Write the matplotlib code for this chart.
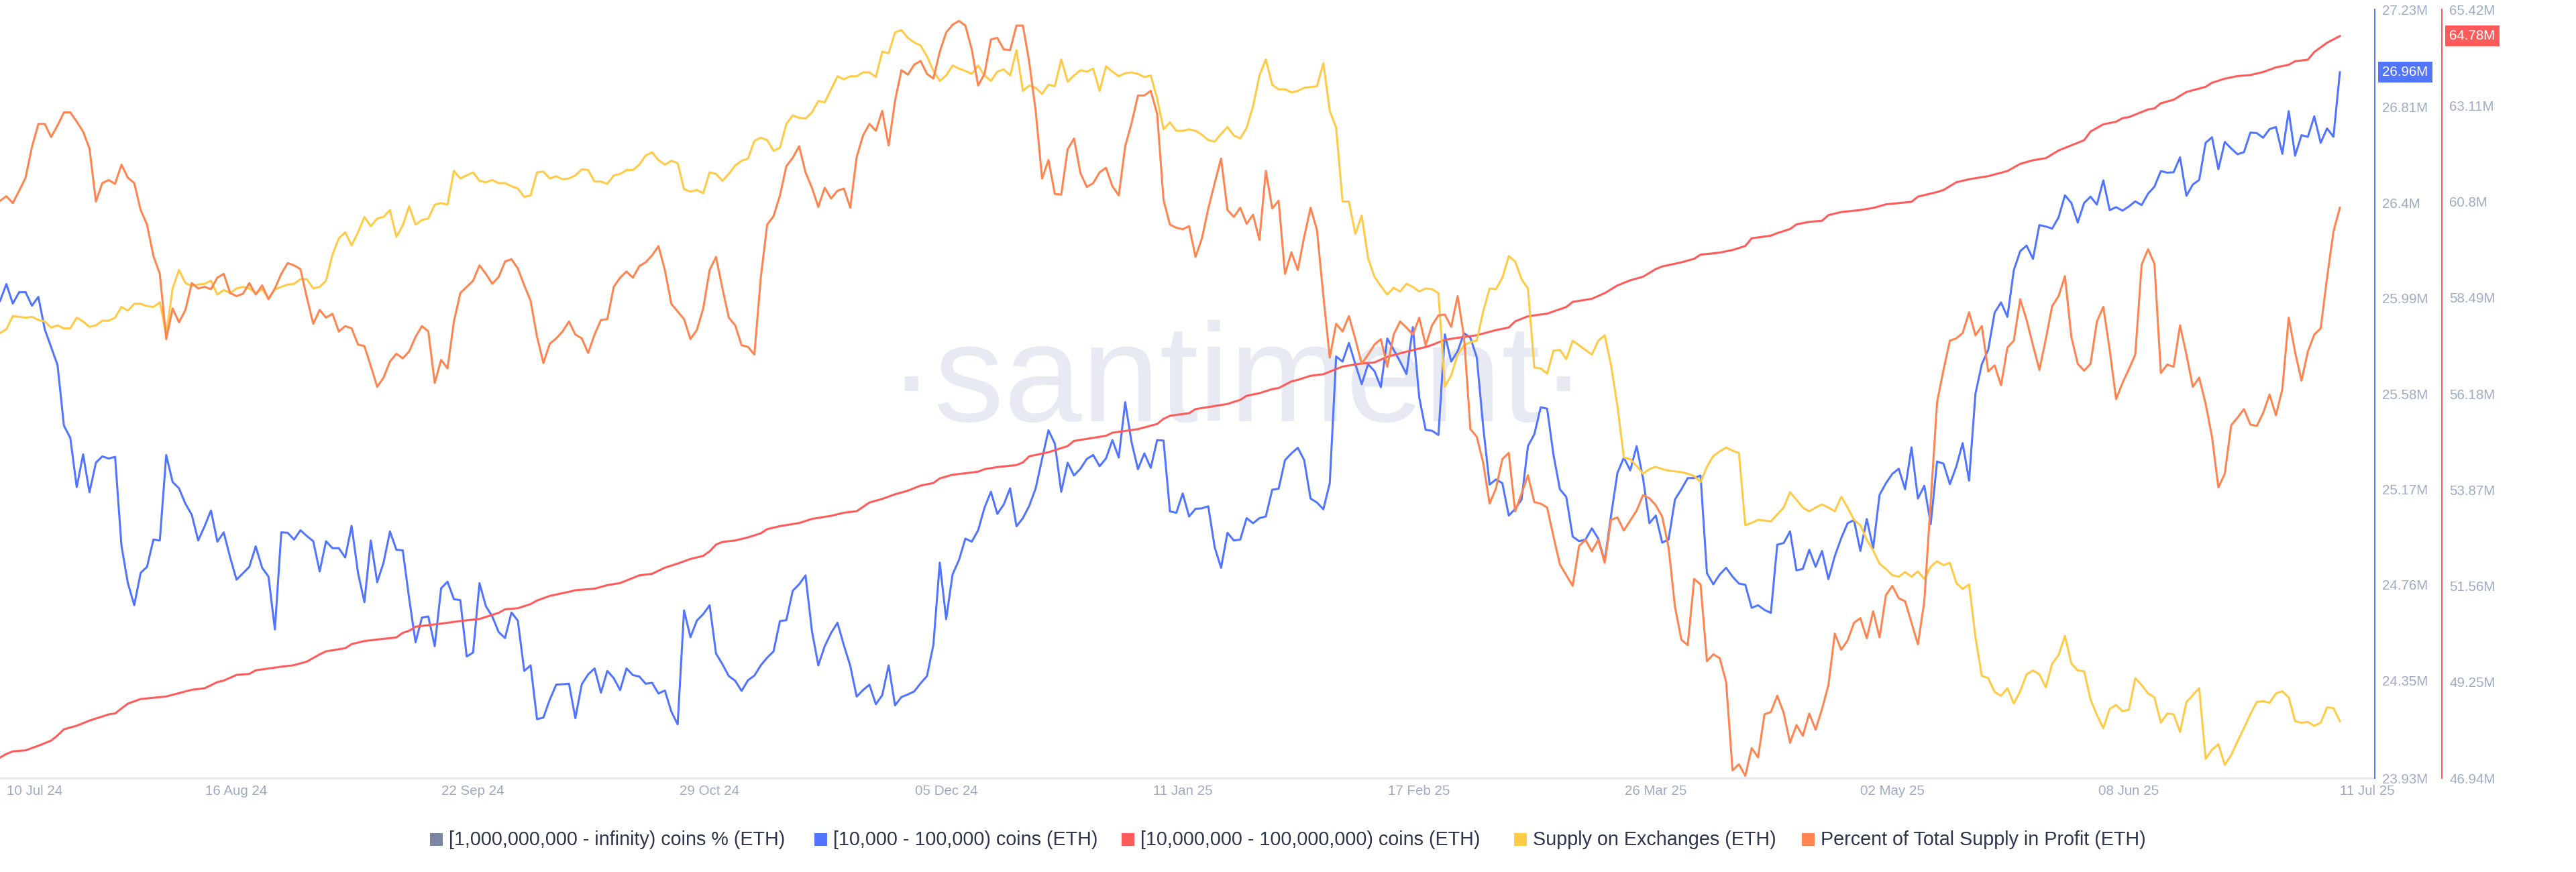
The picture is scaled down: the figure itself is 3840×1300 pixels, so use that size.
import numpy as np
import matplotlib
matplotlib.use('Agg')
import matplotlib.pyplot as plt
from matplotlib.patches import Rectangle
from matplotlib.transforms import ScaledTranslation

plt.rcParams['font.family'] = ['Liberation Sans', 'DejaVu Sans']

# daily values, 10 Jul 24 - 11 Jul 25
coins_10k = [
    25.978, 26.051, 25.967, 26.016, 26.016, 25.958, 25.996, 25.857, 25.78, 25.703,
    25.443, 25.39, 25.179, 25.32, 25.157, 25.284, 25.311, 25.302, 25.309, 24.928,
    24.767, 24.672, 24.811, 24.837, 24.954, 24.95, 25.317, 25.201, 25.174, 25.108,
    25.06, 24.95, 25.011, 25.079, 24.945, 24.985, 24.877, 24.782, 24.809, 24.837,
    24.925, 24.833, 24.795, 24.568, 24.985, 24.983, 24.954, 24.994, 24.969, 24.947,
    24.817, 24.947, 24.917, 24.917, 24.877, 25.013, 24.811, 24.685, 24.95, 24.771,
    24.855, 24.989, 24.91, 24.908, 24.701, 24.513, 24.619, 24.624, 24.496, 24.745,
    24.773, 24.698, 24.694, 24.452, 24.469, 24.767, 24.668, 24.624, 24.557, 24.531,
    24.641, 24.606, 24.39, 24.414, 24.183, 24.19, 24.267, 24.331, 24.333, 24.335,
    24.187, 24.333, 24.375, 24.401, 24.297, 24.39, 24.359, 24.308, 24.401, 24.372,
    24.366, 24.335, 24.339, 24.293, 24.306, 24.216, 24.161, 24.65, 24.535, 24.606,
    24.634, 24.672, 24.465, 24.419, 24.368, 24.348, 24.304, 24.35, 24.37, 24.414,
    24.447, 24.474, 24.604, 24.608, 24.734, 24.762, 24.8, 24.562, 24.414, 24.496,
    24.553, 24.597, 24.5, 24.412, 24.28, 24.308, 24.331,
    24.247, 24.286, 24.414, 24.242, 24.278, 24.289, 24.302, 24.337, 24.368, 24.502,
    24.855, 24.612, 24.804, 24.866, 24.958, 24.945, 24.994, 25.091, 25.159, 25.064,
    25.104, 25.174, 25.011, 25.046, 25.099, 25.174, 25.3, 25.423, 25.366, 25.159,
    25.284, 25.229, 25.258, 25.3, 25.317, 25.269, 25.302, 25.381, 25.306, 25.544,
    25.372, 25.256, 25.324, 25.262, 25.381, 25.379, 25.075, 25.069, 25.152, 25.053,
    25.086, 25.088, 25.097, 24.921, 24.833, 24.983, 24.95, 24.954, 25.046, 25.024,
    25.046, 25.053, 25.168, 25.172, 25.295, 25.324, 25.348, 25.295, 25.13, 25.113,
    25.084, 25.196, 25.74, 25.718, 25.798, 25.707, 25.621, 25.707, 25.677, 25.608,
    25.817, 25.769, 25.718, 25.665, 25.866, 25.564, 25.425, 25.421, 25.403, 25.835,
    25.718, 25.762, 25.84, 25.82, 25.736, 25.439, 25.19, 25.212, 25.196, 25.057,
    25.086, 25.126, 25.355, 25.406, 25.522, 25.516, 25.317, 25.17, 25.137, 24.967,
    24.947, 24.954, 25.002, 24.958, 24.861, 25.057, 25.24, 25.306, 25.251, 25.355,
    25.218, 25.024, 25.057, 24.941, 24.954, 25.126, 25.17, 25.218, 25.218, 25.229,
    24.809, 24.762, 24.804, 24.833, 24.795, 24.765, 24.76, 24.661, 24.672, 24.652,
    24.639, 24.932, 24.939, 24.989, 24.822, 24.828, 24.91, 24.837, 24.905, 24.784,
    24.883, 24.96, 25.024, 25.038, 24.905, 25.042, 24.917, 25.146, 25.196, 25.236,
    25.258, 25.17, 25.35, 25.13, 25.185, 25.02, 25.289, 25.28, 25.192, 25.267,
    25.368, 25.207, 25.58, 25.707, 25.769, 25.928, 25.972, 25.91, 26.11, 26.192,
    26.216, 26.159, 26.304, 26.298, 26.289, 26.337, 26.432, 26.399, 26.315, 26.399,
    26.426, 26.392, 26.496, 26.368, 26.381, 26.366, 26.384, 26.406, 26.39, 26.439,
    26.469, 26.536, 26.529, 26.531, 26.595, 26.43, 26.478, 26.498, 26.657, 26.681,
    26.544, 26.661, 26.633, 26.608, 26.617, 26.701, 26.699, 26.679, 26.716, 26.725,
    26.61, 26.793, 26.602, 26.69, 26.683, 26.771, 26.657, 26.719, 26.683, 26.96,
]

# red line is smooth, so only its bends were read
coins_10m_days = [
    0, 1, 2, 4, 6, 8, 9, 10, 12, 14, 17, 18, 20, 22, 26, 30, 32, 34, 35, 37,
    39, 40, 44, 46, 48, 50, 51, 54, 55, 57, 59, 62, 63, 64, 65, 69, 72, 75, 77, 78,
    79, 81, 83, 84, 86, 89, 90, 93, 95, 97, 100, 102, 104, 106, 108, 110, 111, 112, 113, 115,
    117, 119, 120, 122, 125, 127, 130, 132, 134, 136, 138, 140, 142, 144, 146, 147, 149, 151, 153, 154,
    156, 159, 160, 161, 164, 167, 168, 171, 173, 174, 178, 181, 182, 183, 186, 187, 190, 192, 194, 195,
    197, 199, 200, 202, 203, 205, 207, 209, 210, 213, 215, 217, 220, 223, 224, 226, 228, 231, 234, 236,
    237, 239, 242, 245, 246, 249, 251, 253, 255, 257, 259, 260, 263, 265, 266, 269, 271, 273, 274, 277,
    278, 280, 281, 283, 285, 286, 288, 291, 293, 295, 299, 300, 303, 304, 306, 308, 311, 314, 316, 318,
    320, 322, 326, 327, 329, 331, 332, 333, 336, 337, 338, 340, 342, 345, 346, 348, 350, 352, 354, 356,
    358, 359, 361, 362, 364, 366,
]
coins_10m = [
    47.434, 47.521, 47.582, 47.607, 47.718, 47.841, 47.965, 48.113, 48.199, 48.323, 48.471, 48.495, 48.73, 48.841, 48.902, 49.063, 49.1, 49.248, 49.285, 49.42,
    49.445, 49.532, 49.618, 49.655, 49.741, 49.914, 49.988, 50.062, 50.161, 50.235, 50.272, 50.321, 50.432, 50.481, 50.58, 50.654, 50.716, 50.765, 50.864, 50.913,
    50.999, 51.024, 51.123, 51.209, 51.32, 51.419, 51.456, 51.493, 51.579, 51.629, 51.814, 51.851, 51.999, 52.097, 52.208, 52.282, 52.393, 52.554, 52.616, 52.653,
    52.727, 52.825, 52.924, 52.998, 53.072, 53.171, 53.245, 53.319, 53.356, 53.565, 53.652, 53.763, 53.849, 53.972, 54.034, 54.145, 54.232, 54.269, 54.306, 54.367,
    54.417, 54.466, 54.528, 54.676, 54.774, 54.922, 55.046, 55.12, 55.169, 55.243, 55.329, 55.453, 55.576, 55.65, 55.712, 55.811, 55.885, 55.934, 56.033, 56.131,
    56.193, 56.292, 56.316, 56.477, 56.514, 56.612, 56.649, 56.773, 56.834, 56.908, 56.933, 57.069, 57.192, 57.303, 57.353, 57.476, 57.525, 57.587, 57.71, 57.772,
    57.92, 58.043, 58.105, 58.265, 58.389, 58.463, 58.598, 58.784, 58.907, 58.993, 59.178, 59.24, 59.339, 59.425, 59.524, 59.573, 59.635, 59.733, 59.918, 59.98,
    60.042, 60.14, 60.251, 60.313, 60.338, 60.474, 60.548, 60.597, 60.646, 60.733, 60.794, 60.918, 61.029, 61.078, 61.263, 61.337, 61.411, 61.534, 61.707, 61.794,
    61.843, 62.028, 62.275, 62.484, 62.657, 62.719, 62.805, 62.83, 63.015, 63.039, 63.163, 63.249, 63.434, 63.558, 63.656, 63.755, 63.817, 63.841, 63.915, 64.026,
    64.088, 64.174, 64.211, 64.396, 64.618, 64.78,
]

# these two have no axis in the picture: values are % of the plot height
supply_exchanges = [
    57.9, 58.4, 60.1, 60.0, 59.9, 60.0, 59.6, 59.4, 58.6, 58.9,
    58.5, 58.5, 59.9, 59.4, 58.7, 58.9, 59.5, 59.5, 59.9, 61.3,
    60.8, 61.7, 61.7, 61.4, 61.3, 61.9, 57.7, 63.7, 66.1, 64.4,
    64.0, 64.2, 64.3, 64.7, 62.9, 63.5, 63.1, 63.7, 63.9, 63.7,
    63.1, 63.6, 62.4, 63.6, 63.9, 64.2, 64.3, 64.9, 64.9, 63.7,
    63.9, 64.7, 68.1, 70.2, 71.0, 69.3, 71.0, 73.0, 71.8, 72.8,
    73.0, 73.9, 70.4, 71.9, 74.4, 72.0, 72.6, 72.8, 74.6, 74.8,
    74.6, 79.0, 78.0, 78.4, 78.8, 77.7, 77.5, 77.8, 77.4, 77.4,
    77.0, 76.7, 75.6, 75.8, 78.8, 78.9, 78.0, 78.3, 77.9, 78.0,
    78.4, 79.2, 79.1, 77.6, 77.6, 77.3, 78.4, 78.6, 79.1, 79.1,
    79.8, 81.0, 81.4, 80.4, 79.8, 80.3, 80.0, 76.6, 76.3, 76.5,
    76.1, 78.8, 78.6, 77.7, 78.6, 79.7, 80.3, 80.6, 82.9, 83.3,
    83.0, 81.6, 82.0, 85.1, 86.2, 85.9, 85.8, 86.6, 88.1, 87.9,
    89.6, 91.3, 90.9, 91.3, 91.3, 91.8, 91.8,
    91.2, 94.5, 94.3, 97.0, 97.3, 96.3, 95.7, 95.3, 93.9, 92.0,
    90.7, 91.4, 92.7, 92.3, 92.0, 91.6, 92.7, 91.4, 90.7, 91.9,
    92.2, 91.4, 94.7, 89.4, 90.1, 89.8, 89.0, 90.2, 90.0, 93.5,
    90.6, 91.4, 92.1, 91.9, 92.3, 89.4, 92.6, 91.9, 91.3, 91.7,
    91.8, 91.6, 91.2, 91.4, 88.4, 84.4, 85.3, 84.2, 84.2, 84.4,
    84.2, 83.7, 83.0, 82.8, 83.8, 84.7, 83.6, 83.2, 84.6, 87.4,
    91.4, 93.5, 90.2, 89.6, 89.6, 89.2, 89.4, 89.8, 89.9, 90.0,
    93.0, 86.8, 84.6, 75.0, 75.0, 70.8, 73.2, 67.6, 65.2, 64.0,
    62.9, 63.8, 63.3, 64.3, 63.9, 63.3, 63.7, 63.6, 63.1, 50.9,
    52.4, 55.1, 56.3, 56.7, 56.9, 60.7, 63.7, 63.6, 65.1, 67.9,
    67.2, 64.9, 63.7, 53.4, 53.3, 52.6, 55.6, 55.7, 54.5, 56.9,
    56.3, 55.7, 55.1, 56.9, 57.6, 53.7, 48.4, 41.7, 41.5, 40.6,
    39.6, 40.2, 40.5, 40.2, 40.0, 39.9, 39.8, 39.6, 39.3, 38.5,
    40.5, 41.9, 42.5, 43.0, 42.6, 42.3, 32.9, 33.2, 33.6, 33.5,
    33.4, 34.3, 35.2, 37.2, 36.2, 35.2, 34.7, 35.2, 35.6, 35.2,
    34.7, 36.6, 35.2, 33.6, 32.9, 31.0, 29.6, 27.9, 27.2, 26.4,
    26.2, 26.8, 26.2, 26.9, 25.9, 27.5, 28.2, 27.7, 28.0, 25.4,
    24.6, 25.2, 18.3, 13.3, 13.0, 11.2, 10.7, 11.7, 9.7, 11.3,
    13.5, 14.0, 13.5, 11.8, 14.9, 16.0, 18.5, 14.9, 14.0, 13.9,
    10.2, 8.2, 6.5, 9.0, 9.5, 8.7, 8.9, 13.0, 12.1, 11.0,
    10.5, 7.2, 8.4, 8.3, 6.0, 9.9, 10.8, 11.7, 2.5, 3.7,
    4.4, 1.7, 3.0, 4.8, 6.5, 8.3, 9.9, 10.0, 9.8, 11.0,
    11.3, 10.5, 7.4, 7.2, 7.3, 6.8, 7.2, 9.2, 9.1, 7.4,
]

supply_in_profit = [
    75.1, 75.7, 74.8, 76.4, 78.1, 82.1, 85.1, 85.1, 83.4, 84.9,
    86.6, 86.6, 85.4, 84.1, 81.9, 75.0, 77.4, 77.8, 77.3, 79.8,
    78.1, 77.4, 73.9, 72.0, 67.9, 65.6, 57.1, 61.1, 59.3, 60.9,
    64.4, 63.7, 63.9, 63.6, 65.1, 65.6, 63.1, 62.7, 63.0, 64.4,
    62.9, 64.1, 62.3, 63.7, 65.6, 67.0, 66.7, 66.2, 62.5, 59.1,
    60.9, 59.9, 60.4, 58.1, 58.8, 58.5, 56.4, 56.2, 53.6, 50.9,
    52.1, 54.2, 55.2, 54.6, 55.5, 57.4, 58.8, 58.1, 51.4, 54.4,
    53.3, 59.4, 63.1, 63.9, 64.7, 66.7, 65.6, 64.3, 65.2, 67.2,
    67.5, 66.3, 64.1, 62.1, 57.4, 54.0, 56.5, 57.2, 58.1, 59.4,
    57.7, 57.2, 55.3, 57.7, 59.6, 59.7, 63.9, 65.1, 65.9, 65.1,
    66.6, 67.1, 68.0, 69.2, 66.1, 61.7, 60.7, 59.7, 57.1, 58.3,
    61.1, 66.1, 67.8, 63.7, 59.9, 58.9, 56.3, 56.1, 55.1, 65.1,
    72.0, 73.1, 75.8, 79.6, 80.7, 82.2, 78.8, 76.8, 74.3, 76.8,
    75.4, 76.4, 76.7, 74.2, 80.8, 83.6, 85.1,
    84.2, 86.8, 82.3, 88.1, 92.1, 91.5, 92.8, 93.3, 91.6, 91.0,
    94.5, 97.0, 98.0, 98.5, 97.9, 94.8, 90.1, 91.6, 96.1, 96.3,
    94.8, 94.7, 97.9, 97.9, 93.1, 86.8, 78.0, 80.4, 76.0, 75.9,
    81.8, 83.2, 78.7, 76.9, 77.4, 78.8, 79.4, 77.0, 75.8, 82.2,
    85.2, 88.8, 88.8, 89.4, 86.4, 75.2, 72.0, 71.6, 71.4, 71.8,
    67.8, 70.2, 74.1, 77.4, 80.6, 73.9, 73.0, 74.2, 72.1, 73.3,
    70.0, 79.0, 74.1, 75.1, 65.6, 68.4, 66.1, 70.4, 74.2, 71.3,
    62.7, 54.7, 59.1, 58.1, 60.1, 57.1, 53.9, 55.1, 56.4, 57.1,
    53.5, 57.7, 59.4, 58.6, 57.7, 59.9, 56.3, 58.9, 60.2, 60.3,
    58.7, 62.7, 57.4, 45.4, 44.4, 41.0, 35.7, 37.7, 41.5, 42.3,
    34.7, 37.0, 39.4, 35.9, 35.7, 35.2, 31.4, 27.8, 26.4, 25.0,
    30.2, 31.0, 29.5, 31.0, 28.0, 33.6, 33.9, 32.2, 33.5, 34.8,
    36.8, 36.4, 35.5, 34.0, 30.0, 22.3, 18.0, 17.3, 25.9, 25.2,
    15.2, 16.1, 15.6, 12.5, 1.0, 1.8, 0.3, 3.9, 2.7, 8.3,
    8.6, 10.7, 8.5, 4.6, 6.9, 5.5, 8.4, 6.3, 9.0, 12.1,
    18.8, 16.7, 17.9, 20.2, 20.8, 18.2, 21.7, 18.3, 23.8, 25.0,
    23.4, 23.0, 20.2, 17.4, 23.0, 36.0, 48.9, 53.1, 56.9, 57.2,
    57.9, 60.6, 57.6, 58.8, 52.9, 53.7, 51.1, 56.0, 56.9, 62.3,
    59.6, 56.3, 53.1, 57.1, 61.4, 62.7, 65.3, 57.4, 53.9, 53.0,
    53.9, 59.4, 61.3, 55.7, 49.3, 51.4, 53.2, 55.1, 66.8, 68.8,
    66.9, 52.7, 53.8, 53.5, 58.9, 55.1, 50.9, 52.1, 48.7, 44.4,
    37.8, 39.6, 45.9, 46.9, 48.0, 46.0, 45.8, 47.5, 49.9, 47.2,
    50.6, 59.9, 55.4, 51.7, 55.5, 57.7, 58.5, 65.1, 71.1, 74.2,
]

x_ticks = [0, 37, 74, 111, 148, 185, 222, 259, 296, 333, 366]
x_labels = ['10 Jul 24', '16 Aug 24', '22 Sep 24', '29 Oct 24', '05 Dec 24', '11 Jan 25',
            '17 Feb 25', '26 Mar 25', '02 May 25', '08 Jun 25', '11 Jul 25']
blue_ticks = [23.93, 24.35, 24.76, 25.17, 25.58, 25.99, 26.4, 26.81, 27.23]
red_ticks = [46.94, 49.25, 51.56, 53.87, 56.18, 58.49, 60.8, 63.11, 65.42]

legend_labels = ['[1,000,000,000 - infinity) coins % (ETH)', '[10,000 - 100,000) coins (ETH)',
                 '[10,000,000 - 100,000,000) coins (ETH)', 'Supply on Exchanges (ETH)',
                 'Percent of Total Supply in Profit (ETH)']
legend_colors = ['#7a86a3', '#5275ff', '#ff5b5b', '#ffcb47', '#ff8450']
legend_x = [641, 1214, 1672, 2257, 2686]

assert len(coins_10k) == 367 and len(supply_exchanges) == 367 and len(supply_in_profit) == 367
assert len(coins_10m_days) == len(coins_10m)

W, H = 3840, 1300
GREY = '#9faac4'
TICK_SIZE = 14.8
days = np.arange(367)

fig = plt.figure(figsize=(W / 100, H / 100), dpi=100)
ax = fig.add_axes([0, (H - 1160) / H, 3540 / W, (1160 - 14) / H])
ax.set_xlim(0, 3540 / 9.53)
ax.set_ylim(blue_ticks[0], blue_ticks[-1])

ax.text(1845 / W, 1 - 628 / H, '\u00b7santiment\u00b7', transform=fig.transFigure, ha='center', va='baseline',
        fontsize=150, color='#e7eaf3', zorder=0)

ax.plot(days, coins_10k, color='#5275ff', lw=2.2, zorder=2)

ax_red = ax.twinx()
ax_red.set_ylim(red_ticks[0], red_ticks[-1])
ax_red.plot(coins_10m_days, coins_10m, color='#ff5b5b', lw=2.2)

# hidden scales for the two series with no axis
ax_other = ax.twinx()
ax_other.set_ylim(0, 100)
ax_other.plot(days, supply_exchanges, color='#ffcb47', lw=2.2)
ax_other.plot(days, supply_in_profit, color='#ff8450', lw=2.2)
ax_other.axis('off')

for s in ['top', 'left']:
    ax.spines[s].set_visible(False)
    ax_red.spines[s].set_visible(False)
ax.spines['bottom'].set_color('#e7eaf3')
ax.spines['bottom'].set_linewidth(2.2)
ax_red.spines['bottom'].set_visible(False)
ax.spines['right'].set_visible(False)
ax_red.spines['right'].set_color('#ff5b5b')
ax_red.spines['right'].set_linewidth(1.44)
ax_red.spines['right'].set_position(('axes', 3640 / 3540))

# blue axis line sits on its own twin so the ticks stay on the right
ax_blue = ax.twinx()
ax_blue.set_ylim(blue_ticks[0], blue_ticks[-1])
for s in ['top', 'left', 'bottom']:
    ax_blue.spines[s].set_visible(False)
ax_blue.spines['right'].set_color('#5275ff')
ax_blue.spines['right'].set_linewidth(1.44)

ax.set_yticks([])
ax_blue.set_yticks(blue_ticks)
ax_blue.set_yticklabels(['%gM' % t for t in blue_ticks])
ax_red.set_yticks(red_ticks)
ax_red.set_yticklabels(['%gM' % t for t in red_ticks])
for a in [ax_blue, ax_red]:
    a.tick_params(axis='y', length=0, pad=8.2, labelsize=TICK_SIZE, labelcolor=GREY)

ax.set_xticks(x_ticks)
ax.set_xticklabels(x_labels)
ax.tick_params(axis='x', length=0, pad=7.5, labelsize=TICK_SIZE, labelcolor=GREY)
tick_labels = ax.get_xticklabels()
tick_labels[0].set_ha('left')
tick_labels[0].set_transform(tick_labels[0].get_transform() + ScaledTranslation(0.1, 0, fig.dpi_scale_trans))
tick_labels[-1].set_ha('left')

# last value badges
ax_blue.annotate('26.96M', xy=(1, coins_10k[-1]), xycoords=ax_blue.get_yaxis_transform(), xytext=(8.2, 0),
                 textcoords='offset points', va='center', fontsize=TICK_SIZE, color='white',
                 bbox=dict(boxstyle='square,pad=0.3', fc='#5275ff', ec='none'), annotation_clip=False)
ax_red.annotate('64.78M', xy=(3640 / 3540, coins_10m[-1]), xycoords=ax_red.get_yaxis_transform(), xytext=(8.2, 0),
                textcoords='offset points', va='center', fontsize=TICK_SIZE, color='white',
                bbox=dict(boxstyle='square,pad=0.3', fc='#ff5b5b', ec='none'), annotation_clip=False)

for label, color, px in zip(legend_labels, legend_colors, legend_x):
    fig.add_artist(Rectangle((px / W, 1 - 1261 / H), 19 / W, 19 / H, transform=fig.transFigure, fc=color, ec='none'))
    fig.text((px + 28) / W, 1 - 1252 / H, label, fontsize=20.7, color='#2f354d', va='center')

fig.savefig('out.png', dpi=100)
